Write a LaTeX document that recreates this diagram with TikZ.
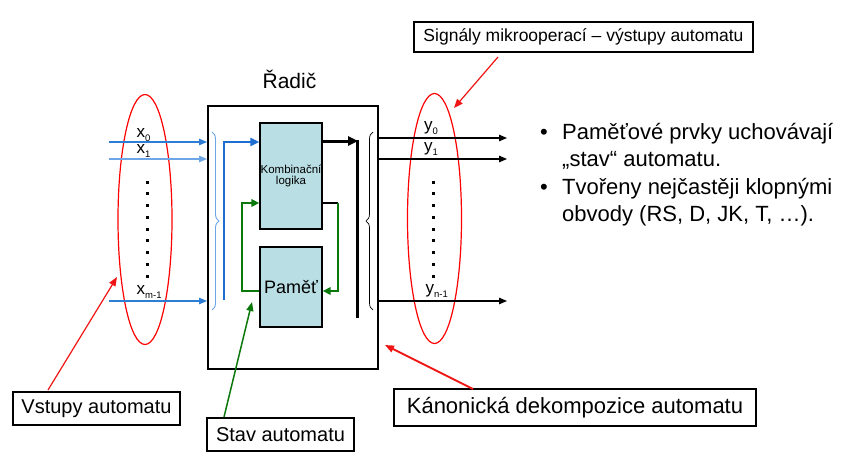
\documentclass[tikz,border=0pt]{standalone}
\usepackage{fontspec}
\setmainfont{Liberation Sans}
\usetikzlibrary{arrows.meta,shapes.geometric,decorations.pathreplacing}
\definecolor{boxfill}{RGB}{185,222,227}
\definecolor{bluemain}{RGB}{30,110,210}
\definecolor{bluein}{RGB}{45,125,215}
\definecolor{bluelight}{RGB}{110,165,230}
\definecolor{greenl}{RGB}{10,120,10}
\definecolor{redl}{RGB}{240,20,20}
\newcommand\lsub[1]{\raisebox{-4pt}{\fontsize{9.5}{9.5}\selectfont #1}}
\begin{document}
\begin{tikzpicture}[x=1pt,y=-1pt,
  frame/.style={draw=black, line width=2pt, minimum width=170pt, minimum height=263pt, inner sep=0pt},
  blk/.style={draw=black, fill=boxfill, line width=1.4pt, inner sep=0pt, minimum width=62pt, align=center},
  callout/.style={draw=black, line width=1.3pt, fill=white, inner sep=0pt},
  sel/.style={ellipse, draw=red, line width=1.2pt, minimum width=54pt, minimum height=250pt, inner sep=0pt},
  inarrow/.style={line width=1.3pt, -{Triangle[length=8pt,width=6.5pt]}},
  outarrow/.style={line width=1.3pt, black, -{Triangle[length=8pt,width=6.5pt]}},
  lbl/.style={anchor=base west, inner sep=0pt, font=\fontsize{17}{17}\selectfont},
  bul/.style={anchor=base west, inner sep=0pt, font=\fontsize{22}{22}\selectfont},
  redarrow/.style={draw=redl, line width=1.2pt, -{Triangle[length=9pt,width=7pt]}},
]
\useasboundingbox (0,0) rectangle (855,455);
\fill[white] (0,0) rectangle (855,455);

% main frame and title
\node[frame] (radic) at (293,237.5) {};
\node[anchor=base, inner sep=0pt, font=\fontsize{21}{21}\selectfont] (title) at (289.5,88) {Řadič};

% inner blocks
\node[blk, minimum height=106pt, font=\fontsize{11.5}{11.5}\selectfont] (komb) at (291,176) {Kombinační\\logika};
\node[blk, minimum height=80pt, font=\fontsize{18}{18}\selectfont] (pam) at (291,287) {Paměť};

% selection ellipses
\node[sel] (xell) at (145,219.5) {};
\node[sel] (yell) at (434.5,218.5) {};

% input lines
\coordinate (x0s) at (109,142);
\coordinate (x1s) at (109,159);
\coordinate (xms) at (109,301);
\draw[inarrow, bluein] (x0s) -- (x0s -| radic.west);
\draw[inarrow, bluelight] (x1s) -- (x1s -| radic.west);
\draw[inarrow, bluein] (xms) -- (xms -| radic.west);
\node[lbl] (lx0) at (136.5,137) {x\lsub{0}};
\node[lbl] (lx1) at (136.5,153.5) {x\lsub{1}};
\node[lbl] (lxm) at (136.5,294) {x\lsub{m-1}};
\foreach \i in {0,...,8} {
  \fill (145.5,{180.5+11.75*\i}) rectangle ++(3.2,3.2);
  \fill (431.5,{180.5+11.75*\i}) rectangle ++(3.2,3.2);
}

% braces
\draw[bluelight, line width=0.9pt, decorate, decoration={brace, amplitude=7pt}] (212,132) -- (212,310);
\draw[black, line width=0.7pt, decorate, decoration={brace, amplitude=7pt}] (373,310) -- (373,132);

% blue bus into logic
\coordinate (bb) at (224,300);
\coordinate (bt) at (224,142);
\draw[bluemain, line width=2.8pt, -{Triangle[length=9pt,width=8pt]}] (bb) -- (bt) -- (bt -| komb.west);

% green state feedback
\coordinate (gl1) at (242,291);
\coordinate (gl2) at (242,203);
\draw[greenl, line width=2.8pt, -{Triangle[length=8pt,width=7.5pt]}] (pam.west |- gl1) -- (gl1) -- (gl2) -- (gl2 -| komb.west);
\coordinate (gr1) at (338,203);
\coordinate (gr2) at (338,291);
\draw[black, line width=2.8pt] (komb.east |- gr1) -- (gr1);
\draw[greenl, line width=2.8pt, -{Triangle[length=8pt,width=7.5pt]}] (gr1) -- (gr2) -- (gr2 -| pam.east);

% black output bus
\coordinate (bk) at (358,141);
\coordinate (bkb) at (357,318);
\draw[black, line width=3pt, -{Triangle[length=10pt,width=9pt]}] (komb.east |- bk) -- (bk);
\draw[black, line width=3pt] (357,140) -- (bkb);

% outputs
\coordinate (y0e) at (507,138);
\coordinate (y1e) at (507,159);
\coordinate (yme) at (507,301);
\draw[outarrow] (radic.east |- y0e) -- (y0e);
\draw[outarrow] (radic.east |- y1e) -- (y1e);
\draw[outarrow] (radic.east |- yme) -- (yme);
\node[lbl] (ly0) at (424,130) {y\lsub{0}};
\node[lbl] (ly1) at (424,151.5) {y\lsub{1}};
\node[lbl] (lym) at (425.5,293) {y\lsub{n-1}};

% bullet text
\node[bul] (b1) at (540,139.5) {•};
\node[bul] (t1) at (562,139.5) {Paměťové prvky uchovávají};
\node[bul] (t2) at (562,166.8) {„stav“ automatu.};
\node[bul] (b2) at (540,194) {•};
\node[bul] (t3) at (562,194) {Tvořeny nejčastěji klopnými};
\node[bul] (t4) at (562,221.7) {obvody (RS, D, JK, T, …).};

% callouts
\node[callout, minimum width=339pt, minimum height=30pt, font=\fontsize{17.5}{17.5}\selectfont] (sig) at (583.5,37) {Signály mikrooperací – výstupy automatu};
\node[callout, minimum width=167pt, minimum height=33pt, font=\fontsize{20}{20}\selectfont] (vst) at (96.5,408.5) {Vstupy automatu};
\node[callout, minimum width=147pt, minimum height=33pt, font=\fontsize{20}{20}\selectfont] (stav) at (280.5,434.5) {Stav automatu};
\node[callout, minimum width=362pt, minimum height=37pt, font=\fontsize{22}{22}\selectfont] (kan) at (575,407.5) {Kánonická dekompozice automatu};

% callout pointers
\coordinate (sigt) at (498,57);
\coordinate (sigh) at (454,108);
\draw[redarrow] (sigt) -- (sigh);
\coordinate (vstt) at (48,390);
\coordinate (vsth) at (117,277);
\draw[redarrow] (vstt) -- (vsth);
\coordinate (stavt) at (224,417);
\coordinate (stavh) at (252,302);
\draw[greenl, line width=1.5pt, -{Triangle[length=9pt,width=7pt]}] (stavt) -- (stavh);
\coordinate (kant) at (473,389);
\coordinate (kanh) at (385,345);
\draw[redarrow, line width=1.8pt] (kant) -- (kanh);
\end{tikzpicture}
\end{document}
